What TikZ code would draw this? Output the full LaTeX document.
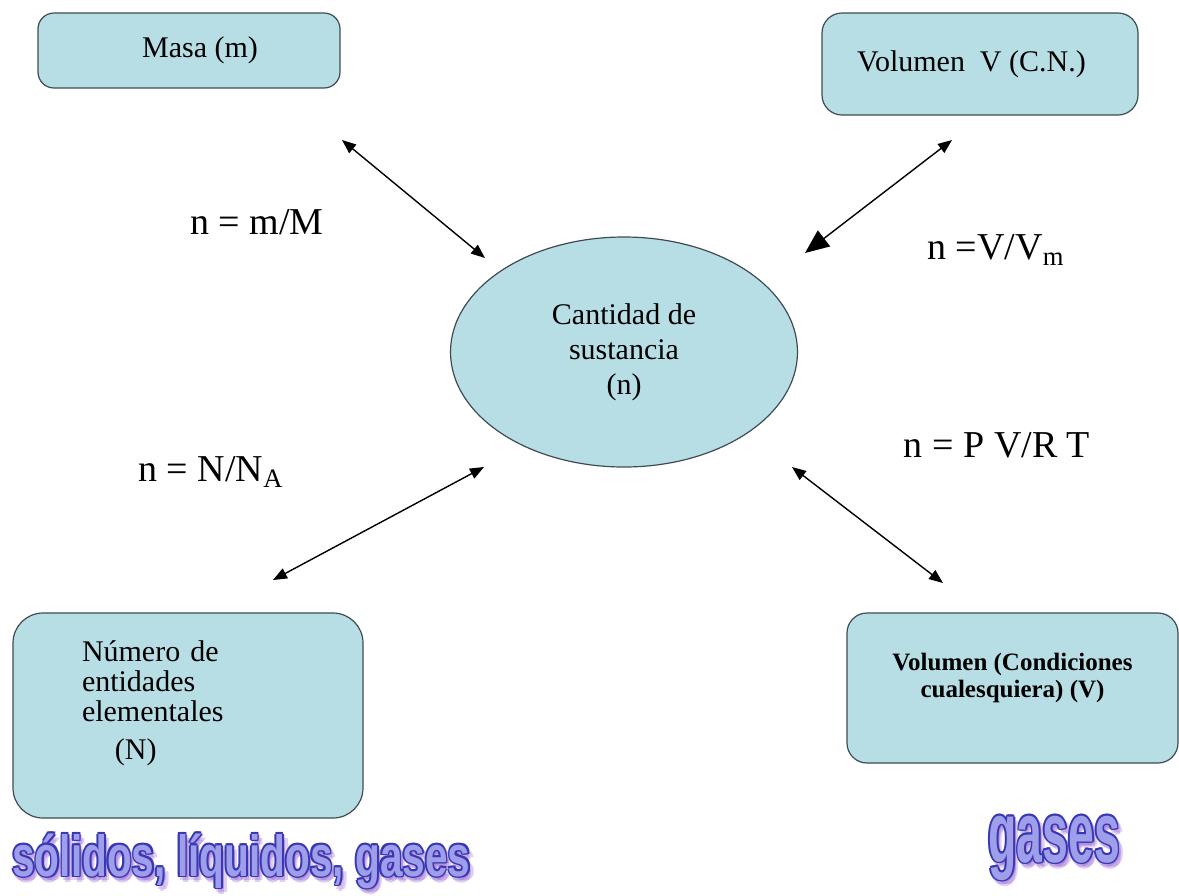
\documentclass[tikz,border=0pt]{standalone}
\usepackage{fontspec}
\setmainfont{Liberation Serif}
\newfontfamily\artfont{Liberation Sans}
\usepackage{graphicx}
\usetikzlibrary{arrows.meta,shapes.geometric}

\definecolor{boxblue}{RGB}{184,222,229}
\definecolor{boxline}{RGB}{62,76,82}
\definecolor{artfill}{RGB}{158,158,234}
\definecolor{artline}{RGB}{56,56,178}
\definecolor{artshadow}{RGB}{128,64,200}

\tikzset{
  qbox/.style={draw=boxline, fill=boxblue, line width=0.6pt, rounded corners=8pt, inner sep=0pt, align=center, font=\fontsize{15}{17.5}\selectfont},
  qellipse/.style={ellipse, draw=boxline, fill=boxblue, line width=0.6pt, inner sep=0pt, align=center, font=\fontsize{15}{17.5}\selectfont},
  formula/.style={inner sep=0pt, font=\fontsize{19}{22}\selectfont},
  link/.style={{Triangle[length=7pt,width=5.5pt]}-{Triangle[length=7pt,width=5.5pt]}, line width=0.7pt},
  artsmall/.style={anchor=base west, inner sep=0pt, font=\artfont\bfseries\fontsize{29}{30}\selectfont},
  artbig/.style={anchor=base west, inner sep=0pt, font=\artfont\bfseries\fontsize{43}{44}\selectfont}
}

\newcommand{\solidtxt}{\scalebox{0.70}[1]{sólidos, líquidos, gases}}
\newcommand{\gasestxt}{\scalebox{0.54}[1]{gases}}

\begin{document}
\begin{tikzpicture}[x=0.5pt,y=-0.5pt]
\useasboundingbox (0,0) rectangle (1179,895);

% boxes
\node[qbox, minimum width=151pt, minimum height=37.5pt] (masa) at (189,50.5) {\hspace*{11pt}Masa (m)};
\node[qbox, rounded corners=10pt, minimum width=158pt, minimum height=51pt] (vcn) at (980,64) {Volumen\ \ V (C.N.)\hspace*{8.5pt}};
\node[qellipse, minimum width=173.5pt, minimum height=115pt] (cant) at (624,352) {Cantidad de\\sustancia\\(n)};
\node[qbox, rounded corners=15pt, minimum width=175pt, minimum height=102.5pt, text width=106pt, align=left, font=\fontsize{15}{15}\selectfont] (nent) at (188,715.5) {Número de\\entidades\\elementales\\[4pt]\hspace*{16.5pt}(N)\\\mbox{}};
\node[qbox, rounded corners=10pt, minimum width=165.5pt, minimum height=75pt, font=\fontsize{12.5}{13.5}\selectfont\bfseries] (vcond) at (1012.5,688) {Volumen (Condiciones\\cualesquiera) (V)\\[-1pt]\mbox{}};

% formulas
\node[formula] (eq-masa) at (257,222) {n = m/M};
\node[formula] (eq-vcn) at (996,250) {n =V/V\textsubscript{m}};
\node[formula] (eq-nent) at (211,472) {n = N/N\textsubscript{A}};
\node[formula] (eq-vcond) at (997,445) {n = P V/R T};

% arrow ends
\coordinate (masa-end) at (342,140);
\coordinate (cant-nw) at (485,258);
\coordinate (vcn-end) at (952,140);
\coordinate (cant-ne) at (805,253);
\coordinate (nent-end) at (273,580);
\coordinate (cant-sw) at (484,467);
\coordinate (vcond-end) at (943,583);
\coordinate (cant-se) at (792,467);

\draw[link] (masa-end) -- (cant-nw);
\draw[link, {Triangle[length=7pt,width=5.5pt]}-{Triangle[length=12pt,width=10pt]}] (vcn-end) -- (cant-ne);
\draw[link] (nent-end) -- (cant-sw);
\draw[link] (vcond-end) -- (cant-se);

% word art
\foreach \a in {0,90,...,270}
  \node[artsmall, text=artshadow, opacity=0.25, shift={(\a:2.5)}, xshift=1.5pt, yshift=-2pt] (solidos-shadow-\a) at (12,876) {\solidtxt};
\foreach \a in {0,45,...,315}
  \node[artsmall, text=artline, shift={(\a:1.7)}] (solidos-line-\a) at (12,876) {\solidtxt};
\node[artsmall, text=artfill] (solidos) at (12,876) {\solidtxt};

\foreach \a in {0,90,...,270}
  \node[artbig, text=artshadow, opacity=0.25, shift={(\a:2.5)}, xshift=1.5pt, yshift=-2pt] (gases-shadow-\a) at (988,862) {\gasestxt};
\foreach \a in {0,45,...,315}
  \node[artbig, text=artline, shift={(\a:1.7)}] (gases-line-\a) at (988,862) {\gasestxt};
\node[artbig, text=artfill] (gases) at (988,862) {\gasestxt};
\end{tikzpicture}
\end{document}
